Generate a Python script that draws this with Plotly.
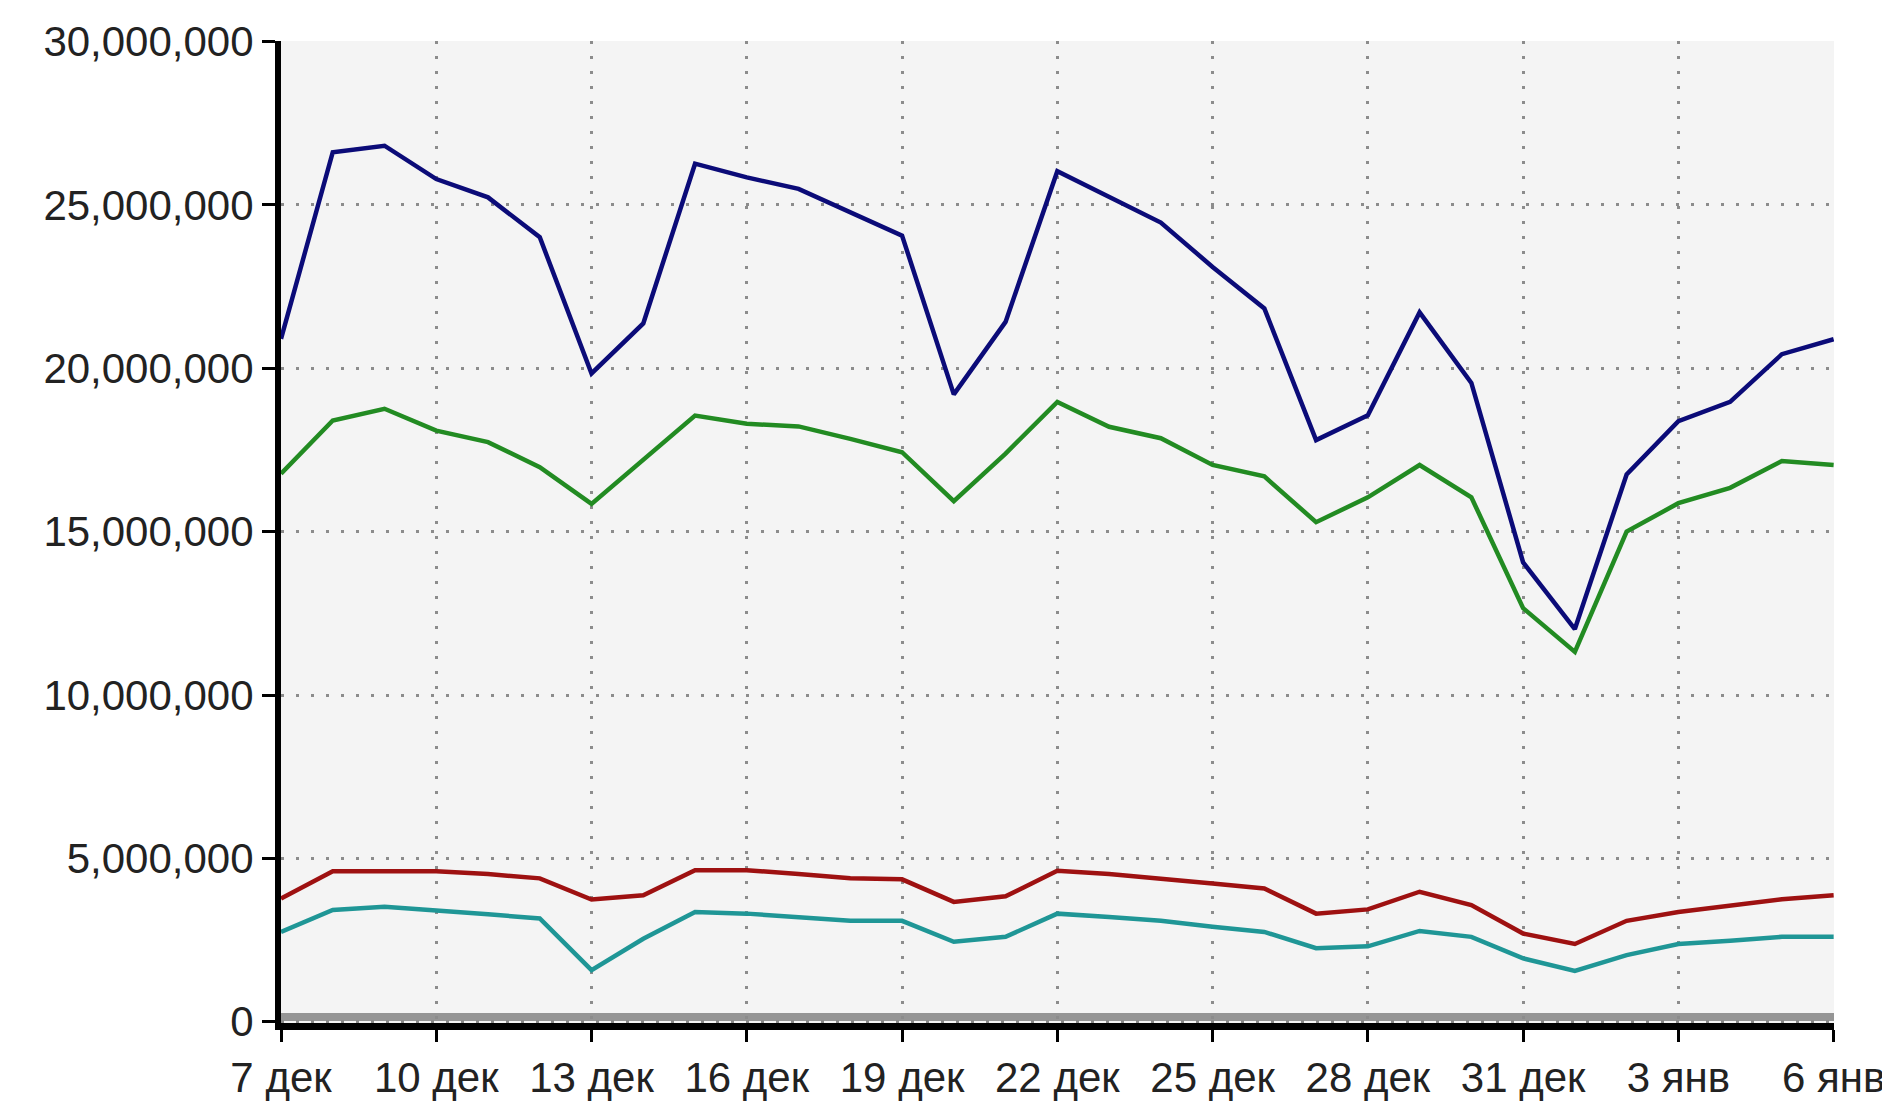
import plotly.graph_objects as go

dates = [
    "2009-12-07", "2009-12-08", "2009-12-09", "2009-12-10", "2009-12-11", "2009-12-12",
    "2009-12-13", "2009-12-14", "2009-12-15", "2009-12-16", "2009-12-17", "2009-12-18",
    "2009-12-19", "2009-12-20", "2009-12-21", "2009-12-22", "2009-12-23", "2009-12-24",
    "2009-12-25", "2009-12-26", "2009-12-27", "2009-12-28", "2009-12-29", "2009-12-30",
    "2009-12-31", "2010-01-01", "2010-01-02", "2010-01-03", "2010-01-04", "2010-01-05",
    "2010-01-06",
]

blue = [20.9, 26.61, 26.81, 25.79, 25.23, 24.01, 19.84, 21.37, 26.26, 25.84, 25.49,
        24.77, 24.06, 19.2, 21.42, 26.03, 25.25, 24.46, 23.1, 21.83, 17.8, 18.56,
        21.71, 19.55, 14.06, 12.02, 16.75, 18.38, 18.97, 20.43, 20.89]
green = [16.77, 18.4, 18.76, 18.09, 17.74, 16.97, 15.85, 17.18, 18.55, 18.3, 18.22,
         17.84, 17.43, 15.93, 17.39, 18.97, 18.21, 17.86, 17.04, 16.69, 15.29, 16.05,
         17.04, 16.05, 12.66, 11.32, 15.0, 15.87, 16.34, 17.16, 17.04]
red = [3.77, 4.61, 4.61, 4.61, 4.52, 4.39, 3.74, 3.87, 4.64, 4.64, 4.52, 4.39, 4.36,
       3.67, 3.84, 4.62, 4.52, 4.39, 4.23, 4.08, 3.31, 3.44, 3.98, 3.57, 2.7, 2.38,
       3.09, 3.36, 3.54, 3.75, 3.87]
teal = [2.75, 3.42, 3.52, 3.42, 3.29, 3.16, 1.58, 2.54, 3.36, 3.31, 3.19, 3.09, 3.09,
        2.45, 2.6, 3.31, 3.21, 3.09, 2.91, 2.75, 2.25, 2.31, 2.78, 2.6, 1.94, 1.56,
        2.04, 2.38, 2.48, 2.6, 2.6]

tick_dates = ["2009-12-07", "2009-12-10", "2009-12-13", "2009-12-16", "2009-12-19",
              "2009-12-22", "2009-12-25", "2009-12-28", "2009-12-31", "2010-01-03",
              "2010-01-06"]
tick_labels = ["7 дек", "10 дек", "13 дек", "16 дек", "19 дек", "22 дек", "25 дек",
               "28 дек", "31 дек", "3 янв", "6 янв"]
y_ticks = [0, 5000000, 10000000, 15000000, 20000000, 25000000, 30000000]

MILLION = 1_000_000
series = [
    (red, "#9e1111"),
    (teal, "#1f9696"),
    (green, "#228b22"),
    (blue, "#0b0b78"),
]

fig = go.Figure()
for vals, color in series:
    fig.add_trace(go.Scatter(
        x=dates, y=[v * MILLION for v in vals], mode="lines",
        line=dict(color=color, width=4.5), showlegend=False, hoverinfo="skip",
    ))

# grey baseline band just above the bottom axis
fig.add_shape(type="rect", xref="paper", yref="paper", x0=0, x1=1,
              y0=0.002, y1=0.0102, fillcolor="#959595", line=dict(width=0),
              layer="below")

font = dict(family="Liberation Sans, Arial, sans-serif", size=42, color="#222222")

fig.update_layout(
    width=1882, height=1102,
    margin=dict(l=281, r=48, t=41, b=79),
    paper_bgcolor="white", plot_bgcolor="#f4f4f4",
    font=font,
    showlegend=False,
)
fig.update_xaxes(
    type="date", range=["2009-12-07", "2010-01-06 00:10"],
    tickvals=tick_dates, ticktext=tick_labels, tickfont=font,
    ticklabeloverflow="allow",
    showline=True, linecolor="black", linewidth=7,
    ticks="outside", ticklen=12, tickwidth=3, tickcolor="black",
    showgrid=True, gridcolor="#8c8c8c", gridwidth=2.5, griddash="2.5px,12.5px",
    zeroline=False, automargin=False,
)
fig.update_yaxes(
    range=[-37000, 30015000], tickvals=y_ticks, tickformat=",d", tickfont=font,
    showline=True, linecolor="black", linewidth=6,
    ticks="outside", ticklen=13, tickwidth=3, tickcolor="black",
    showgrid=True, gridcolor="#8c8c8c", gridwidth=2.5, griddash="2.5px,12.5px",
    zeroline=False, automargin=False,
)

fig.write_html("out.html", config={"displayModeBar": False},
               post_script="document.body.style.margin='0';")
